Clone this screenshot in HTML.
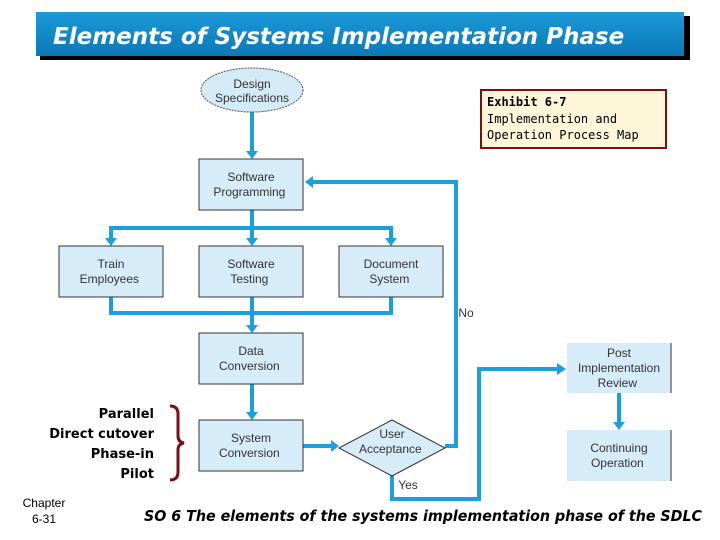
<!DOCTYPE html>
<html><head><meta charset="utf-8"><style>
body{margin:0;background:#fff;width:720px;height:540px;overflow:hidden}
svg{display:block}
.c{font-family:"Liberation Sans",sans-serif;font-size:12px;fill:#333;text-anchor:middle}
.k{font-family:"DejaVu Sans",sans-serif;font-weight:bold;font-size:13px;fill:#000;text-anchor:end}
</style></head><body>
<svg width="720" height="540" viewBox="0 0 720 540">
<defs>
<linearGradient id="g" x1="0" y1="0" x2="0" y2="1"><stop offset="0" stop-color="#1c9ad8"/><stop offset="1" stop-color="#0b78b8"/></linearGradient>
</defs>
<rect x="40" y="16" width="650" height="44" fill="#000"/>
<rect x="36" y="12" width="648" height="44" fill="url(#g)"/>
<text x="53" y="44" font-family="DejaVu Sans,sans-serif" font-style="italic" font-weight="bold" font-size="23" fill="#fff">Elements of Systems Implementation Phase</text>
<g fill="none" stroke="#1ba0dc" stroke-width="4">
<path d="M252 112V152"/>
<path d="M252 210V240M111 240V228H391V240"/>
<path d="M111 297V313H391V297M252 297V326"/>
<path d="M252 384V413"/>
<path d="M303 446H332"/>
<path d="M445 446H456V182H312"/>
<path d="M392 476V499H479V369H558"/>
<path d="M619 393V423"/>
</g>
<g fill="#1ba0dc">
<path d="M246 151H258L252 159Z"/>
<path d="M105 238H117L111 246Z"/>
<path d="M246 238H258L252 246Z"/>
<path d="M385 238H397L391 246Z"/>
<path d="M246 325H258L252 333Z"/>
<path d="M246 412H258L252 420Z"/>
<path d="M331 440V452L339 446Z"/>
<path d="M313 176V188L305 182Z"/>
<path d="M557 363V375L566 369Z"/>
<path d="M613 422H625L619 430Z"/>
</g>
<ellipse cx="252" cy="90" rx="51" ry="22" fill="#d4ebf7" stroke="#555" stroke-dasharray="2,1"/>
<text class="c" x="252" y="93"><tspan x="252" dy="-5">Design</tspan><tspan x="252" dy="14">Specifications</tspan></text>
<g fill="#d6ecf8" stroke="#333" stroke-width="1">
<rect x="199" y="159" width="104" height="51"/>
<rect x="59" y="246" width="104" height="51"/>
<rect x="199" y="246" width="104" height="51"/>
<rect x="339" y="246" width="104" height="51"/>
<rect x="199" y="333" width="104" height="51"/>
<rect x="199" y="420" width="104" height="51"/>
<path d="M339 448L392 420L445 448L392 476Z"/>
</g>
<rect x="567" y="343" width="104" height="50" fill="#d6ecf8"/>
<rect x="567" y="430" width="104" height="51" fill="#d6ecf8"/>
<path d="M671 343V393M671 430V481" stroke="#333"/>
<text class="c"><tspan x="251" y="181">Software</tspan><tspan x="251" y="196">Programming</tspan>
<tspan x="111" y="268">Train</tspan><tspan x="111" y="283">Employees</tspan>
<tspan x="251" y="268">Software</tspan><tspan x="251" y="283">Testing</tspan>
<tspan x="391" y="268">Document</tspan><tspan x="391" y="283">System</tspan>
<tspan x="251" y="355">Data</tspan><tspan x="251" y="370">Conversion</tspan>
<tspan x="251" y="442">System</tspan><tspan x="251" y="457">Conversion</tspan>
<tspan x="392" y="438">User</tspan><tspan x="392" y="453">Acceptance</tspan>
<tspan x="619" y="357">Post</tspan><tspan x="619" y="372">Implementation</tspan><tspan x="619" y="387">Review</tspan>
<tspan x="619" y="452">Continuing</tspan><tspan x="619" y="467">Operation</tspan>
<tspan x="466" y="317">No</tspan><tspan x="408" y="489">Yes</tspan></text>
<rect x="481" y="90" width="185" height="58" fill="#fdf6d8" stroke="#7a1010" stroke-width="2"/>
<text font-family="DejaVu Sans Mono,monospace" font-size="12" fill="#000"><tspan x="487" y="106" font-weight="bold">Exhibit 6-7</tspan><tspan x="487" y="123">Implementation and</tspan><tspan x="487" y="139">Operation Process Map</tspan></text>
<path d="M170 406Q178 406 178 414V436Q178 442 184 443Q178 444 178 450V472Q178 480 170 480" fill="none" stroke="#7a1010" stroke-width="3"/>
<text class="k"><tspan x="154" y="418">Parallel</tspan><tspan x="154" y="438">Direct cutover</tspan><tspan x="154" y="458">Phase-in</tspan><tspan x="154" y="478">Pilot</tspan></text>
<text font-family="Liberation Sans,sans-serif" font-size="12" fill="#000" text-anchor="middle"><tspan x="44" y="507">Chapter</tspan><tspan x="44" y="523">6-31</tspan></text>
<text x="144" y="521" font-family="DejaVu Sans,sans-serif" font-style="italic" font-weight="bold" font-size="15" fill="#000" textLength="558" lengthAdjust="spacingAndGlyphs">SO 6  The elements of the systems implementation phase of the SDLC</text>
</svg>
</body></html>
